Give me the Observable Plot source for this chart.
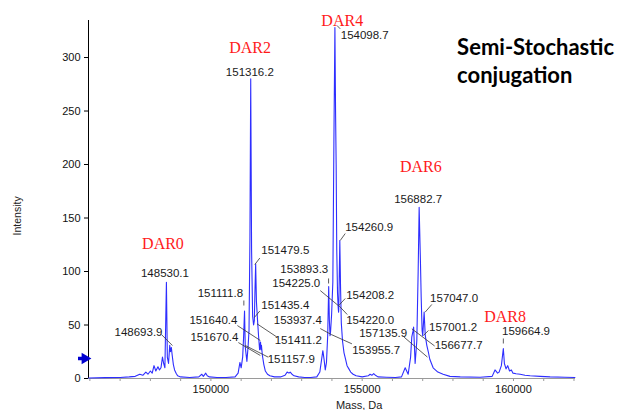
<!DOCTYPE html>
<html>
<head>
<meta charset="utf-8">
<script src="https://cdn.jsdelivr.net/npm/d3@7"></script>
<script src="https://cdn.jsdelivr.net/npm/@observablehq/plot@0.6"></script>
<style>
  html, body { margin: 0; padding: 0; background: #fff; }
  #chart svg { display: block; }
</style>
</head>
<body>
<div id="chart"></div>
<script>
// Deconvoluted mass spectrum (mass in Da, intensity)
const spectrumMass = [
  145960, 146500, 147000, 147300, 147500, 147650, 147750, 147850, 147920, 148000,
  148060, 148120, 148180, 148250, 148300, 148350, 148400, 148440, 148480, 148530.1,
  148560, 148600, 148640, 148665, 148693.9, 148720, 148760, 148800, 148850, 148900,
  149000, 149300, 149600, 149700, 149750, 149830, 149880, 149950, 150200, 150500,
  150800, 150900, 150960, 151000, 151050, 151080, 151111.8, 151135, 151157.9, 151190,
  151230, 151260, 151290, 151316.2, 151345, 151380, 151411.2, 151435.4, 151455, 151479.5,
  151505, 151540, 151575, 151610, 151640.4, 151655, 151670.4, 151700, 151750, 151800,
  151870, 151950, 152100, 152300, 152450, 152520, 152580, 152620, 152680, 152750,
  152900, 153100, 153300, 153500, 153600, 153660, 153700, 153740, 153780, 153820,
  153860, 153893.3, 153915, 153937.4, 153955.7, 153990, 154030, 154065, 154098.7, 154120,
  154140, 154160, 154185, 154208.2, 154220, 154225, 154240, 154260.9, 154285, 154310,
  154350, 154400, 154450, 154500, 154560, 154620, 154700, 154800, 155000, 155200,
  155260, 155320, 155380, 155440, 155520, 155800, 156100, 156300, 156421, 156520,
  156600, 156640, 156677.7, 156700, 156750, 156805, 156850, 156882.7, 156925, 156950,
  156980, 157001.2, 157047.0, 157085, 157135.9, 157185, 157235, 157345, 157500, 157675,
  157900, 158240, 158900, 159295, 159390, 159475, 159525, 159600, 159664.9, 159700,
  159755, 159810, 159870, 159930, 159985, 160085, 160220, 160380, 160550, 160880,
  161210, 161700, 162030
];
const spectrumIntensity = [
  0.5, 0.8, 1, 1.5, 2, 4, 3, 6, 4, 7,
  5, 12, 7, 11, 8, 10, 20, 14, 10, 90,
  20, 14, 31, 25, 29, 22, 13, 8, 5, 2.5,
  1.5, 1, 1.5, 4, 2, 5, 2.5, 1.5, 1, 1,
  1.5, 5, 15, 10, 20, 38, 63, 30, 24, 16,
  30, 45, 130, 280, 120, 58, 50, 54, 80, 107,
  72, 55, 40, 27, 34, 27, 31, 22, 13, 7,
  4, 2.5, 1.5, 1.5, 3, 6, 5, 6, 4, 2.5,
  1.5, 1, 1, 1.5, 6, 18, 26, 18, 8, 15,
  40, 86, 55, 40, 44, 60, 90, 220, 328, 250,
  200, 120, 80, 66, 62, 64, 90, 129, 85, 52,
  35, 24, 18, 12, 9, 6, 4, 2.5, 1.5, 2.5,
  4, 3, 4.5, 3, 1.5, 1.2, 1, 1.5, 10, 4,
  20, 39, 44, 48, 14, 35, 100, 160, 110, 76,
  45, 40, 62, 40, 31, 25, 18, 10, 6, 4,
  2, 1.5, 1.2, 2, 8, 5, 6, 12, 28, 14,
  9, 12, 7, 8, 5, 4.5, 4, 3, 2.5, 2,
  1.5, 1.2, 1
];

// Peak mass labels: [text, label centre mass, label centre intensity]
const massLabels = [
  ["148530.1", 148482, 97.9],
  ["148693.9", 147607, 43.3],
  ["151316.2", 151287, 286.3],
  ["151111.8", 150314, 79.7],
  ["151479.5", 152459, 119.6],
  ["151435.4", 152459, 68.2],
  ["151640.4", 150083, 54.2],
  ["151670.4", 150116, 38.6],
  ["151411.2", 152888, 35.5],
  ["151157.9", 152657, 18.4],
  ["153893.3", 153086, 102.5],
  ["154225.0", 152822, 89.1],
  ["154098.7", 155084, 321.2],
  ["154260.9", 155232, 141.4],
  ["154208.2", 155265, 77.6],
  ["154220.0", 155265, 54.2],
  ["153937.4", 152872, 54.2],
  ["153955.7", 155463, 26.2],
  ["156882.7", 156850, 167.9],
  ["157047.0", 158038, 75.4],
  ["157001.2", 158005, 47.9],
  ["156677.7", 158187, 30.8],
  ["157135.9", 155694, 41.8],
  ["159664.9", 160415, 44.2]
];

// Leader lines: [mass1, intensity1, mass2, intensity2]
const leaders = [
  [148366, 41.1, 148729, 30.8],
  [151089, 72.9, 151089, 68.2],
  [151617, 112.6, 151452, 106.5],
  [151617, 63.1, 151436, 57.0],
  [150875, 49.5, 151634, 35.5],
  [150908, 33.6, 151634, 21.5],
  [151525, 51.1, 152179, 38.8],
  [151139, 30.8, 151898, 19.9],
  [153889, 93.5, 153889, 88.8],
  [153615, 82.2, 154209, 68.2],
  [154275, 326.8, 154166, 330.0],
  [154440, 135.5, 154275, 129.0],
  [154440, 74.8, 154225, 68.2],
  [154506, 59.8, 154225, 68.2],
  [153615, 46.7, 153978, 41.1],
  [154661, 32.4, 153978, 41.1],
  [157302, 69.2, 157081, 62.0],
  [157190, 44.9, 157025, 40.2],
  [157394, 30.4, 156642, 46.4],
  [156386, 38.6, 157157, 20.0],
  [159665, 37.4, 159665, 32.7]
];

// Drug-to-antibody ratio species: [text, mass, intensity]
const darLabels = [
  ["DAR0", 148416, 125.9],
  ["DAR2", 151294, 309.0],
  ["DAR4", 154341, 333.9],
  ["DAR6", 156939, 198.1],
  ["DAR8", 159721, 57.3]
];

const yTicks = [0, 50, 100, 150, 200, 250, 300];
const xTicks = d3.range(146000, 162001, 1000);
const xLabelTicks = [150000, 155000, 160000];
const markerLevel = 18.7;
const xDomain = [145955, 162050];
const yDomain = [0, 334.6];

const spectrum = spectrumMass.map((m, i) => ({mass: m, intensity: spectrumIntensity[i]}));
const labelFont = "Liberation Sans, Arial, sans-serif";

const chart = Plot.plot({
  width: 619,
  height: 410,
  marginLeft: 88,
  marginRight: 44,
  marginTop: 20,
  marginBottom: 32,
  style: {fontFamily: labelFont, background: "#fff", overflow: "visible"},
  x: {domain: xDomain},
  y: {domain: yDomain},
  marks: [
    Plot.ruleY([0], {stroke: "#9a9a9a", strokeWidth: 1}),
    Plot.axisX({ticks: xTicks, tickSize: 3, tickPadding: 4, stroke: "#9a9a9a",
      tickFormat: d => xLabelTicks.includes(d) ? String(d) : "", fontSize: 11, fill: "#111", label: null}),
    Plot.ruleX([xDomain[0]], {y1: 0, y2: yDomain[1], stroke: "#000", strokeWidth: 1}),
    Plot.axisY({ticks: yTicks, tickSize: 4, tickPadding: 4, fontSize: 11, fill: "#111", label: null}),
    Plot.text(["Intensity"], {x: xDomain[0], y: 152, dx: -71, rotate: -90, fontSize: 10.5, fill: "#222"}),
    Plot.text(["Mass, Da"], {x: 154900, y: 0, dy: 27, fontSize: 11, fill: "#222"}),
    // baseline marker arrow
    Plot.ruleY([markerLevel], {x1: xDomain[0] - 330, x2: xDomain[0] - 130, stroke: "#0000d0", strokeWidth: 3.5}),
    Plot.dot([markerLevel], {x: xDomain[0] - 120, y: d => d, symbol: "triangle", rotate: 90, r: 4.2, fill: "#0000d0", stroke: null}),
    // spectrum
    Plot.line(spectrum, {x: "mass", y: "intensity", stroke: "#2e2eff", strokeWidth: 1.1, curve: "linear"}),
    // leaders
    Plot.link(leaders, {x1: d => d[0], y1: d => d[1], x2: d => d[2], y2: d => d[3], stroke: "#333", strokeWidth: 0.8}),
    // mass labels
    Plot.text(massLabels, {x: d => d[1], y: d => d[2], text: d => d[0], fontSize: 11.5, fill: "#1a1a1a", lineAnchor: "middle"}),
    // DAR labels
    Plot.text(darLabels, {x: d => d[1], y: d => d[2], text: d => d[0], fontSize: 16, fill: "#ff1a1a",
      fontFamily: "Liberation Serif, Times New Roman, serif", lineAnchor: "middle"}),
    // title
    Plot.text(["Semi-Stochastic\nconjugation"], {x: 158137, y: 298, textAnchor: "start", lineAnchor: "middle",
      lineHeight: 1.27, fontSize: 22, fontWeight: "bold", fontFamily: "Lato, sans-serif", fill: "#000"})
  ]
});
document.getElementById("chart").append(chart);
</script>
</body>
</html>
